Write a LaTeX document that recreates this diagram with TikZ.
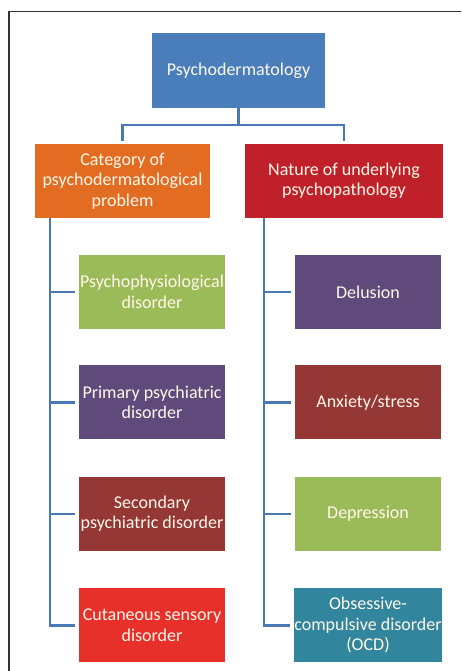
\documentclass[tikz,border=0pt]{standalone}
\usepackage{fontspec}
\setmainfont{Carlito}
\usepackage{tikz}
\usetikzlibrary{positioning}
\usepackage{xcolor}
\definecolor{rootblue}{HTML}{4A7EBB}
\definecolor{catorange}{HTML}{E36C23}
\definecolor{natred}{HTML}{C0202A}
\definecolor{leafgreen}{HTML}{9BBB59}
\definecolor{leafpurple}{HTML}{604A7B}
\definecolor{leafbrown}{HTML}{953735}
\definecolor{leafred}{HTML}{E8302A}
\definecolor{leafteal}{HTML}{31859C}
\definecolor{linkblue}{HTML}{4A78B4}
\definecolor{framegray}{HTML}{333333}
\definecolor{boxtext}{HTML}{FFF8EA}

\begin{document}
\begin{tikzpicture}[x=1pt, y=-1pt, node distance=36pt, every node/.style={font=\fontsize{18}{20.5}\selectfont, text=boxtext}]
\tikzstyle{box}=[rectangle, inner sep=0pt, align=center, minimum width=146pt, minimum height=74pt]
\tikzstyle{conn}=[draw=linkblue, line width=2.6pt]

\useasboundingbox (0,0) rectangle (461,671);
% frame round the figure
\draw[framegray, line width=1.2pt] (9,671) -- (9,11.5) -- (461,11.5);

% top and headers
\node[box, fill=rootblue, minimum width=173pt, minimum height=75pt] (root) at (238.5,70.5) {Psychodermatology};
\node[box, fill=catorange, minimum width=175pt] (cat) at (122.5,181) {Category of\\psychodermatological\\problem};
\node[box, fill=natred, minimum width=198pt] (nat) at (344,181) {Nature of underlying\\psychopathology};

% left column
\node[box, fill=leafgreen] (phys) at (152,292) {Psychophysiological\\disorder};
\node[box, fill=leafpurple, below=36pt of phys] (prim) {Primary psychiatric\\disorder};
\node[box, fill=leafbrown, below=37pt of prim] (sec) {Secondary\\psychiatric disorder};
\node[box, fill=leafred, below=37pt of sec] (cut) {Cutaneous sensory\\disorder};

% right column
\node[box, fill=leafpurple] (del) at (368,292) {Delusion};
\node[box, fill=leafbrown, below=36pt of del] (anx) {Anxiety/stress};
\node[box, fill=leafgreen, below=37pt of anx] (dep) {Depression};
\node[box, fill=leafteal, below=37pt of dep] (ocd) {Obsessive-\\compulsive disorder\\(OCD)};

% connectors
\draw[conn] (root.south) -- ++(0,17) coordinate (fork);
\draw[conn, shorten >=3pt] (fork) -| (cat.north);
\draw[conn, shorten >=3pt] (fork) -| (nat.north);

\coordinate (lbus) at ([xshift=15pt]cat.south west);
\coordinate (rbus) at ([xshift=19pt]nat.south west);
\foreach \n in {phys,prim,sec}
  \draw[conn, shorten >=4pt] (lbus |- \n.west) -- (\n.west);
\draw[conn, shorten >=4pt] (lbus) |- (cut.west);
\foreach \n in {del,anx,dep}
  \draw[conn, shorten >=4pt] (rbus |- \n.west) -- (\n.west);
\draw[conn, shorten >=4pt] (rbus) |- (ocd.west);
\end{tikzpicture}
\end{document}
